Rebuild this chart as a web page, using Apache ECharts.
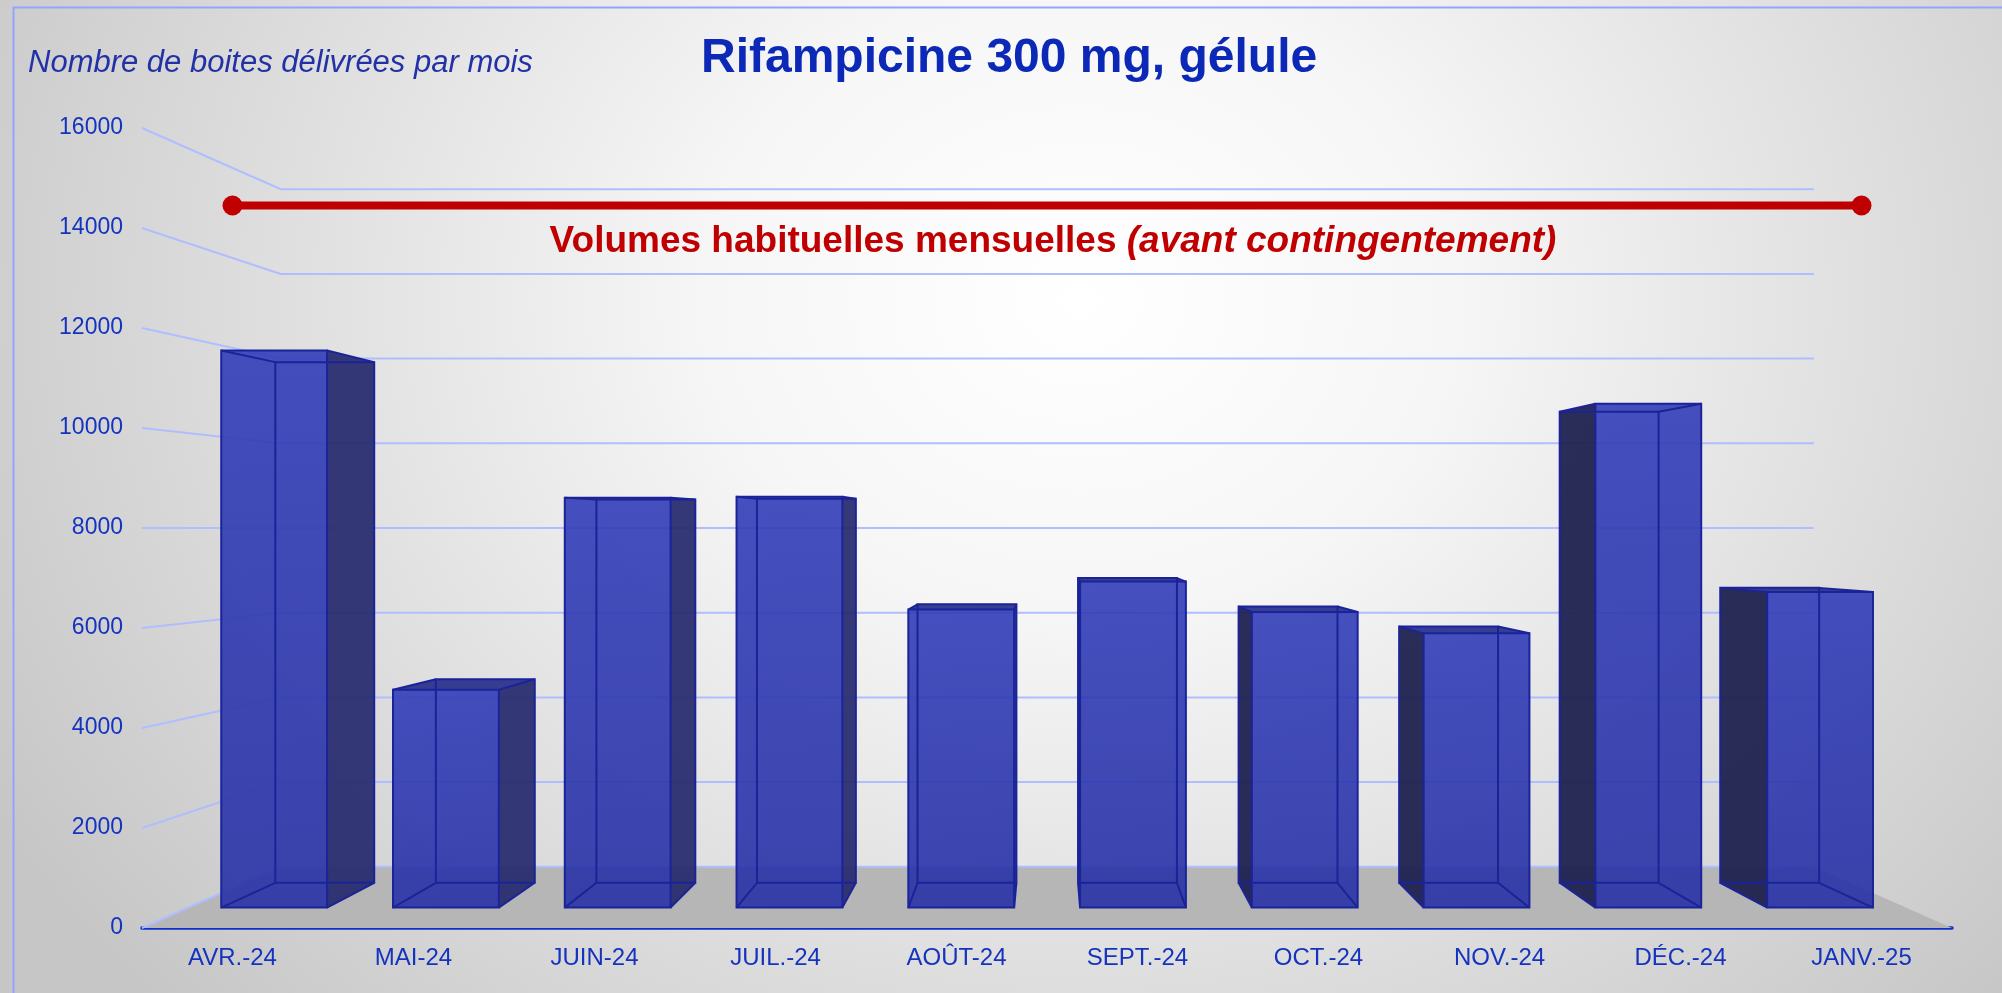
<!DOCTYPE html>
<html><head><meta charset="utf-8">
<script src="https://cdn.jsdelivr.net/npm/echarts@6/dist/echarts.min.js"></script>
<style>
html,body{margin:0;padding:0;overflow:hidden;}
#c{width:2002px;height:993px;background:radial-gradient(1250px 1050px at 1080px 300px,#ffffff 0%,#f6f6f6 30%,#c6c6c6 100%);}
</style>
</head><body><div id="c"></div>
<script>
// ---- data ----
const categories = ['AVR.-24','MAI-24','JUIN-24','JUIL.-24','AOÛT-24','SEPT.-24','OCT.-24','NOV.-24','DÉC.-24','JANV.-25'];
const boxes = [11740, 4590, 8640, 8660, 6280, 6870, 6230, 5780, 10620, 6650];
const usualVolume = 14450;
const yTicks = [0, 2000, 4000, 6000, 8000, 10000, 12000, 14000, 16000];
const titleText = 'Rifampicine 300 mg, gélule';
const subtitleText = 'Nombre de boites délivrées par mois';
const usualLabelMain = 'Volumes habituelles mensuelles ';
const usualLabelItalic = '(avant contingentement)';

// ---- perspective settings ----
const EYE_VALUE = 8000;   // value at eye level
const S_WALL = 0.847;     // scale of back wall
const S_FRONT = 0.949;    // scale of bar front face
const S_BACK = 0.887;     // scale of bar back face
const BAR_FRAC = 0.616;   // bar width / category width

function vanishing(api, cs) {
  return [cs.x + cs.width / 2 + 2, api.coord([0, EYE_VALUE])[1]];
}
function proj(p, vp, s) {
  return [vp[0] + (p[0] - vp[0]) * s, vp[1] + (p[1] - vp[1]) * s];
}

function renderFloor(params, api) {
  const cs = params.coordSys;
  const vp = vanishing(api, cs);
  const y0 = api.coord([0, 0])[1];
  const l = cs.x, r = cs.x + cs.width;
  return {
    type: 'polygon',
    shape: { points: [[l, y0], proj([l, y0], vp, S_WALL), proj([r, y0], vp, S_WALL), [r, y0]] },
    style: { fill: '#b6b6b6' }
  };
}

function renderWallLine(params, api) {
  const cs = params.coordSys;
  const vp = vanishing(api, cs);
  const y = api.coord([0, api.value(1)])[1];
  const l = cs.x, r = cs.x + cs.width;
  return {
    type: 'polyline',
    shape: { points: [[l, y], proj([l, y], vp, S_WALL), proj([r, y], vp, S_WALL)] },
    style: { stroke: '#b0beff', lineWidth: 2, fill: null }
  };
}

function renderBox(params, api) {
  const cs = params.coordSys;
  const vp = vanishing(api, cs);
  const i = api.value(0), v = api.value(1);
  const top = api.coord([i, v]);
  const bot = api.coord([i, 0]);
  const hw = api.size([1, 0])[0] * BAR_FRAC / 2;
  const xl = top[0] - hw, xr = top[0] + hw, yt = top[1], yb = bot[1];
  const base = [[xl, yt], [xr, yt], [xr, yb], [xl, yb]];
  const f = base.map(p => proj(p, vp, S_FRONT));
  const b = base.map(p => proj(p, vp, S_BACK));
  const children = [];
  const rightSideVisible = top[0] < vp[0];
  const side = rightSideVisible ? [f[1], b[1], b[2], f[2]] : [f[0], b[0], b[3], f[3]];
  children.push({ type: 'polygon', shape: { points: side },
    style: { fill: rightSideVisible ? 'rgba(38,42,110,0.93)' : 'rgba(32,34,80,0.95)' } });
  if (v < EYE_VALUE) {
    children.push({ type: 'polygon', shape: { points: [f[0], f[1], b[1], b[0]] },
      style: { fill: 'rgba(40,48,140,0.93)' } });
  }
  children.push({ type: 'polygon', shape: { points: f },
    style: { fill: { type: 'linear', x: 0, y: 0, x2: 0.3, y2: 1, colorStops: [
      { offset: 0, color: 'rgba(50,61,184,0.9)' }, { offset: 1, color: 'rgba(40,50,166,0.9)' }] } } });
  const edge = { stroke: '#1b2399', lineWidth: 2, fill: null };
  children.push({ type: 'polygon', shape: { points: b }, style: edge });
  for (let k = 0; k < 4; k++) {
    children.push({ type: 'line', shape: { x1: f[k][0], y1: f[k][1], x2: b[k][0], y2: b[k][1] }, style: edge });
  }
  children.push({ type: 'polygon', shape: { points: f }, style: edge });
  return { type: 'group', children: children };
}

const chart = echarts.init(document.getElementById('c'), null, { renderer: 'canvas' });
chart.setOption({
  backgroundColor: 'transparent',
  animation: false,
  title: [
    { text: titleText, left: 701, top: 35, padding: 0,
      textStyle: { fontFamily: 'Liberation Sans, Arial, sans-serif', fontSize: 48, fontWeight: 'bold', color: '#0b29b6' } },
    { text: subtitleText, left: 28, top: 48, padding: 0,
      textStyle: { fontFamily: 'Liberation Sans, Arial, sans-serif', fontSize: 31, fontWeight: 'normal', fontStyle: 'italic', color: '#2232a6' } }
  ],
  grid: { left: 142, right: 50, top: 128, bottom: 65, containLabel: false },
  xAxis: {
    type: 'category', data: categories, boundaryGap: true,
    axisLine: { show: true, lineStyle: { color: '#0d2fcc', width: 3.5 } },
    axisTick: { show: false },
    splitLine: { show: false },
    axisLabel: { fontFamily: 'Liberation Sans, Arial, sans-serif', fontSize: 24, color: '#1433be', margin: 18 }
  },
  yAxis: {
    type: 'value', min: 0, max: 16000, interval: 2000,
    axisLine: { show: false }, axisTick: { show: false }, splitLine: { show: false },
    axisLabel: { fontFamily: 'Liberation Sans, Arial, sans-serif', fontSize: 23, color: '#1433be', margin: 19,
      formatter: function (v) { return String(v); } }
  },
  series: [
    { type: 'custom', name: 'floor', renderItem: renderFloor, data: [[0, 0]], silent: true, z: 1 },
    { type: 'custom', name: 'walls', renderItem: renderWallLine, data: yTicks.map(v => [0, v]), silent: true, z: 2 },
    { type: 'custom', name: 'Boites délivrées', renderItem: renderBox, data: boxes.map((v, i) => [i, v]), z: 3 },
    { type: 'line', name: 'Volumes habituelles mensuelles', z: 4,
      data: [[0, usualVolume], [categories.length - 1, usualVolume]],
      symbol: 'circle', symbolSize: 20,
      lineStyle: { color: '#c00000', width: 8 },
      itemStyle: { color: '#c00000' } }
  ],
  graphic: [
    { type: 'rect', left: 11, top: 5, shape: { width: 2100, height: 1100 }, silent: true,
      style: { fill: null, stroke: '#93a3ff', lineWidth: 2 }, z: 100 },
    { type: 'text', x: 1053, y: 242, silent: true, z: 100,
      style: {
        text: '{a|' + usualLabelMain + '}{b|' + usualLabelItalic + '}',
        align: 'center', verticalAlign: 'middle',
        rich: {
          a: { fontFamily: 'Liberation Sans, Arial, sans-serif', fontSize: 37, fontWeight: 'bold', fill: '#c00000', color: '#c00000' },
          b: { fontFamily: 'Liberation Sans, Arial, sans-serif', fontSize: 37, fontWeight: 'bold', fontStyle: 'italic', fill: '#c00000', color: '#c00000' }
        }
      } }
  ]
});
</script>
</body></html>
